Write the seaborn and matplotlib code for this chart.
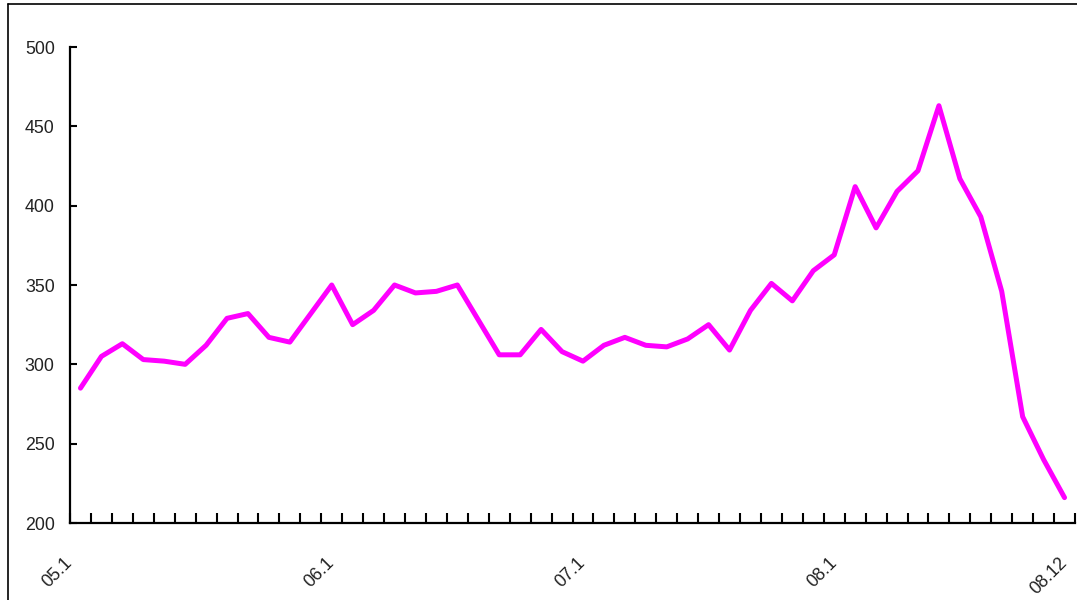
import pandas as pd
import seaborn as sns
import matplotlib.pyplot as plt
import matplotlib.transforms as mtransforms
from matplotlib.lines import Line2D
import numpy as np

# Monthly values, 2005.1 - 2008.12
years = ['05', '06', '07', '08']
months = [f"{y}.{m}" for y in years for m in range(1, 13)]
values = [285, 305, 313, 303, 302, 300, 312, 329, 332, 317, 314, 332,
          350, 325, 334, 350, 345, 346, 350, 328, 306, 306, 322, 308,
          302, 312, 317, 312, 311, 316, 325, 309, 334, 351, 340, 359,
          369, 412, 386, 409, 422, 463, 417, 393, 346, 267, 240, 216]
shown_labels = ['05.1', '06.1', '07.1', '08.1', '08.12']
y_ticks = [200, 250, 300, 350, 400, 450, 500]


def main():
    df = pd.DataFrame({'month': months, 'value': values})
    df['pos'] = np.arange(len(df))

    sns.set_theme(style="white")
    plt.rcParams['font.family'] = ['Liberation Sans', 'DejaVu Sans']

    fig = plt.figure(figsize=(10.77, 6.0), dpi=100)
    ax = fig.add_axes([70 / 1077, 1 - 523 / 600, 1005 / 1077, 476 / 600])

    sns.lineplot(data=df, x='pos', y='value', ax=ax, color='#FF00FF',
                 linewidth=3.6, solid_joinstyle='round', solid_capstyle='round')

    ax.set_xlim(-0.5, len(df) - 0.5)
    ax.set_ylim(200, 500)
    ax.set_xlabel('')
    ax.set_ylabel('')

    # spines
    for s in ['top', 'right']:
        ax.spines[s].set_visible(False)
    for s in ['left', 'bottom']:
        ax.spines[s].set_color('black')
        ax.spines[s].set_linewidth(1.6)

    # y axis
    ax.set_yticks(y_ticks)
    ax.set_yticklabels([str(v) for v in y_ticks])
    ax.tick_params(axis='y', direction='in', length=5, width=1.5, color='black',
                   pad=11, labelsize=12.8, labelcolor='#222222', left=True)

    # x axis: tick marks between categories, labels on selected months
    ax.set_xticks(np.arange(-0.5, len(df), 1.0), minor=True)
    label_pos = [months.index(m) for m in shown_labels]
    ax.set_xticks(label_pos)
    ax.set_xticklabels(shown_labels, rotation=45, ha='right', va='center',
                       rotation_mode='anchor')
    ax.tick_params(axis='x', which='minor', direction='in', length=7, width=1.5,
                   color='black', bottom=True)
    ax.tick_params(axis='x', which='major', length=0, pad=27, labelsize=12.8,
                   labelcolor='#222222', bottom=True)

    # first label sits a little further left in the original
    first = ax.get_xticklabels()[0]
    first.set_transform(first.get_transform() +
                        mtransforms.ScaledTranslation(-11 / 100, 0, fig.dpi_scale_trans))

    # outer frame (cropped on the right and bottom)
    fig.add_artist(Line2D([8 / 1077, 8 / 1077], [0, 1 - 4 / 600],
                          transform=fig.transFigure, color='black', linewidth=1.2))
    fig.add_artist(Line2D([8 / 1077, 1], [1 - 4 / 600, 1 - 4 / 600],
                          transform=fig.transFigure, color='black', linewidth=1.2))

    fig.savefig('out.png', dpi=100)


if __name__ == "__main__":
    main()
